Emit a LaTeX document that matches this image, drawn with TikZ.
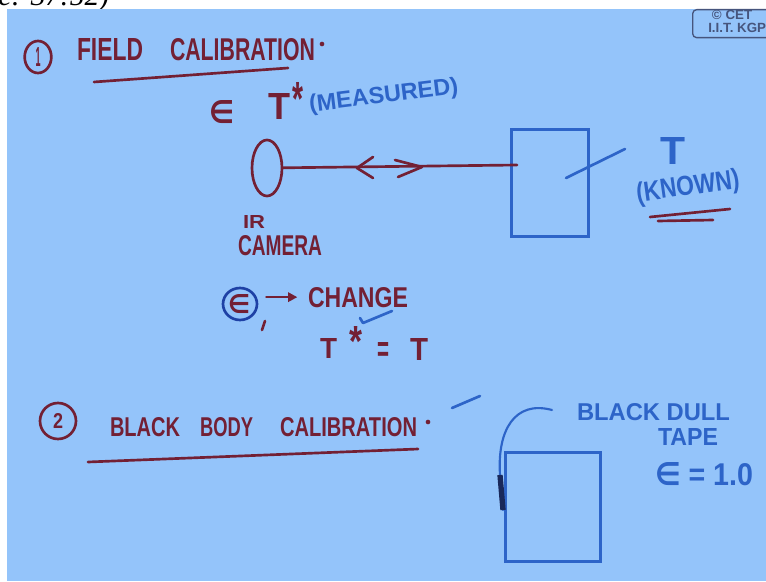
\documentclass[tikz,border=0pt]{standalone}
\usepackage{fontspec}
\setmainfont{Liberation Sans}
\newfontfamily\symf{DejaVu Sans}
\newfontfamily\capf{Liberation Serif}
\usepackage{graphicx}
\usetikzlibrary{shapes.geometric,arrows.meta,calc}
% one pixel of the board = 0.75pt
\newlength\pxu \setlength\pxu{0.75pt}
% hand lettering: text stretched to a given width and height (in pixels)
\newcommand\hw[3]{\resizebox{#1\pxu}{#2\pxu}{#3}}
\newcommand\epsg{{\symf\bfseries ∈}}
\definecolor{board}{RGB}{148,196,250}
\definecolor{inkred}{RGB}{115,32,52}
\definecolor{inkblue}{RGB}{45,100,200}
\definecolor{inkdeep}{RGB}{30,65,165}
\definecolor{logoink}{RGB}{70,85,125}
\definecolor{tapeink}{RGB}{25,40,90}
\begin{document}
\begin{tikzpicture}[x=0.75pt,y=-0.75pt,
  rink/.style={draw=inkred,line width=2pt,line cap=round,line join=round},
  bink/.style={draw=inkblue,line width=2pt,line cap=round,line join=round},
  rtxt/.style={inner sep=0pt,outer sep=0pt,anchor=base west,text=inkred,font=\bfseries},
  btxt/.style={rtxt,text=inkblue},
  ring/.style={ellipse,draw=inkred,line width=2pt,inner sep=0pt,text=inkred,font=\bfseries},
  ]
\useasboundingbox (0,0) rectangle (766,581);
\fill[white] (0,0) rectangle (766,581);
% time stamp cut by the top edge
\begin{scope}
  \clip (0,0) rectangle (766,9);
  \node[anchor=base west,inner sep=0pt,font=\capf\itshape\fontsize{22}{22}\selectfont] (stamp) at (-2,5.5) {e: 37:52)};
\end{scope}
% the board
\fill[board] (7,9) rectangle (766,581);

% logo
\node[draw=logoink,line width=1pt,rounded corners=3pt,anchor=north west,
      minimum width=64pt,minimum height=21pt,inner sep=0pt] (logobox) at (692,9) {};
\node[anchor=north west,inner sep=0pt,align=left,text=logoink,
      font=\bfseries\fontsize{10}{9.6}\selectfont] (logotext) at (708,10) {\ \copyright\ CET\\I.I.T. KGP};

% ---------- 1. field calibration ----------
\node[ring,minimum width=20pt,minimum height=24pt] (one) at (38,57) {\hw{5}{19}{1}};
\node[rtxt] (field) at (77,61) {\hw{66}{22}{FIELD}};
\node[rtxt] (calib) at (170,61) {\hw{145}{22}{CALIBRATION}};
\node[circle,fill=inkred,inner sep=0pt,minimum size=3.5pt] (dot1) at (322,44) {};
\draw[rink] (94,82) -- (288,68);

\node[rtxt] (eps1) at (209,123) {\hw{25}{23}{\epsg}};
\node[rtxt] (tmeas) at (268,120) {\hw{22}{26}{T}};
\node[rtxt] (star1) at (292,116) {\hw{11}{33}{*}};
\node[btxt,rotate=7] (meas) at (310,112) {\hw{150}{17}{(MEASURED)}};

% camera, beam and target
\node[ellipse,draw=inkred,line width=2pt,minimum width=22.5pt,minimum height=42pt,inner sep=0pt] (cam) at (267,168) {};
\node[rtxt] (ir) at (243,228) {\hw{22}{13}{IR}};
\node[rtxt] (camlbl) at (238,255) {\hw{84}{20}{CAMERA}};
\node[draw=inkblue,line width=2pt,minimum width=58pt,minimum height=80pt,inner sep=0pt] (box1) at (550,183) {};
\coordinate (beam) at (517,165);
\draw[rink] (cam) -- (beam);
\draw[rink] (373,157) -- (357,168) -- (373,178);
\draw[rink] (395,160) -- (422,167) -- (398,177);

\coordinate (tlead) at (625,149);
\draw[bink] (box1.center) ++(16,-5) -- (tlead);
\node[btxt] (tknown) at (660,165) {\hw{25}{27}{T}};
\node[btxt,rotate=8,anchor=center] (known) at (688,188) {\hw{104}{20}{(KNOWN)}};
\draw[rink] (650,217) -- (730,209);
\draw[rink] (658,221) -- (713,220);

% emissivity adjusted until T* = T
\node[ellipse,draw=inkdeep,line width=2pt,minimum width=25.5pt,minimum height=24pt,inner sep=0pt] (epsc) at (240,304) {};
\node[rtxt] (epsin) at (228,313) {\hw{22}{19}{\epsg}};
\draw[rink] (265,321) -- (262,330);
\node[rtxt] (change) at (308,307) {\hw{100}{20}{CHANGE}};
\draw[rink,-{Triangle[length=7pt,width=7pt]}] ([xshift=6pt]epsc.east |- change.west) -- ([xshift=-8pt]change.west);
\draw[bink] (360,318) -- (363,323) -- (392,311);

\node[rtxt] (tstar) at (320,358) {\hw{17}{20}{T}};
\node[rtxt] (star2) at (349,356) {\hw{13}{30}{*}};
\node[rtxt] (eq) at (377,361) {\hw{12}{19}{=}};
\node[rtxt] (tt) at (410,360) {\hw{18}{22}{T}};

% ---------- 2. black body calibration ----------
\node[ring,minimum width=27pt,minimum height=27pt] (two) at (58,421) {\hw{10}{15}{2}};
\node[rtxt] (black) at (110,436) {\hw{70}{19}{BLACK}};
\node[rtxt] (body) at (200,436) {\hw{53}{19}{BODY}};
\node[rtxt] (calib2) at (280,436) {\hw{137}{19}{CALIBRATION}};
\node[circle,fill=inkred,inner sep=0pt,minimum size=3.5pt] (dot2) at (428,422) {};
\draw[rink] (88,462) -- (418,449);
\draw[bink] (452,408) -- (480,396);

\node[draw=inkblue,line width=2pt,minimum width=71pt,minimum height=82pt,inner sep=0pt] (box2) at (553,507) {};
\node[btxt] (bdull) at (577,420) {\hw{153}{17}{BLACK DULL}};
\node[btxt] (tapelbl) at (658,445) {\hw{60}{17}{TAPE}};
\node[btxt] (epsval) at (655,485) {\hw{98}{23}{\epsg{} = 1.0}};

% tape leader and the strip of tape on the plate
\coordinate (wire) at (552,410);
\coordinate (tapetop) at (500,475);
\coordinate (tapeend) at (503,510);
\draw[bink,line width=1.6pt] (wire) .. controls (515,400) and (497,430) .. (tapetop) -- (tapeend);
\draw[draw=tapeink,line width=4pt] (tapetop) -- (tapeend);
\end{tikzpicture}
\end{document}
